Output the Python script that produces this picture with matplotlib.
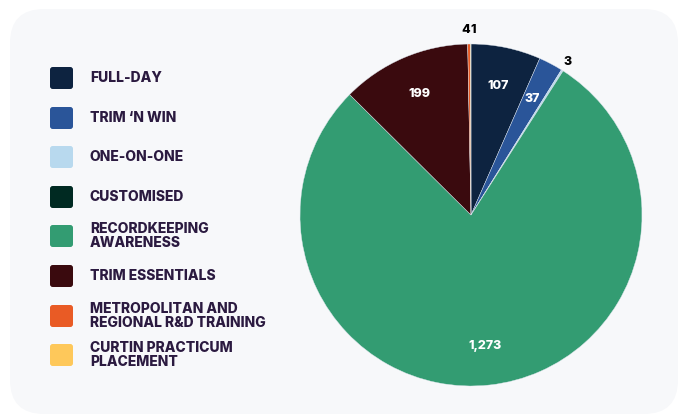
import matplotlib.pyplot as plt
import numpy as np
from matplotlib.patches import FancyBboxPatch

# data
categories = ["FULL-DAY", "TRIM \u2018N WIN", "ONE-ON-ONE", "CUSTOMISED",
              "RECORDKEEPING\nAWARENESS", "TRIM ESSENTIALS",
              "METROPOLITAN AND\nREGIONAL R&D TRAINING",
              "CURTIN PRACTICUM\nPLACEMENT"]
values = [107, 37, 3, 0, 1273, 199, 4, 1]
colors = ["#0d2340", "#2a5599", "#b8d9ee", "#002a22",
          "#339c72", "#3a0a0e", "#e95b25", "#fec85a"]

txtcol = "#2b1a40"
plt.rcParams['font.family'] = ['Inter', 'DejaVu Sans']

fig = plt.figure(figsize=(6.82, 4.16), dpi=100, facecolor='white')

# card background
card = FancyBboxPatch((10/682, 2/416), 668/682, 405/416,
                      boxstyle="round,pad=0,rounding_size=0.05",
                      transform=fig.transFigure, facecolor="#f7f8fa",
                      edgecolor="none", mutation_aspect=682/416, zorder=-10)
fig.patches.append(card)

# pie
ax = fig.add_axes([300/682, 30/416, 342/682, 342/416])
ax.patch.set_visible(False)
wedges, _ = ax.pie(values, colors=colors, startangle=90, counterclock=False,
                   radius=1, wedgeprops=dict(edgecolor="#dfe6ee", linewidth=0.3))
ax.set_xlim(-1, 1)
ax.set_ylim(-1, 1)
ax.set_aspect('equal')
ax.axis('off')

def fmt(v):
    return "{:,}".format(v)

for w, v in zip(wedges, values):
    if v == 0:
        continue
    mid = np.deg2rad((w.theta1 + w.theta2) / 2)
    if v >= 30:
        r = 0.77
        ax.text(r*np.cos(mid), r*np.sin(mid), fmt(v), color="white",
                ha="center", va="center", fontsize=9, fontweight="heavy")

# small slices outside
w3 = wedges[2]
mid = np.deg2rad((w3.theta1 + w3.theta2) / 2)
ax.text(1.06*np.cos(mid), 1.06*np.sin(mid), fmt(values[2]), color="black",
        ha="center", va="center", fontsize=9, fontweight="heavy")

wm, wc = wedges[6], wedges[7]
edge = np.deg2rad(wm.theta1)  # boundary between metro and curtin
ax.text(1.08*np.cos(edge), 1.08*np.sin(edge), fmt(values[6]), color="black",
        ha="right", va="center", fontsize=9, fontweight="heavy")
ax.text(1.08*np.cos(edge), 1.08*np.sin(edge), fmt(values[7]), color="black",
        ha="left", va="center", fontsize=9, fontweight="heavy")

# legend
ys = [78, 118, 157, 197, 236, 276, 316, 355]
for lab, c, y in zip(categories, colors, ys):
    sq = FancyBboxPatch((50/682, (416-y-11)/416), 23/682, 22/416,
                        boxstyle="round,pad=0,rounding_size=0.004",
                        transform=fig.transFigure, facecolor=c,
                        edgecolor="none", mutation_aspect=682/416)
    fig.patches.append(sq)
    fig.text(90/682, (416-y)/416, lab, color=txtcol, ha="left", va="center",
             fontsize=10, fontweight="heavy", linespacing=1.05)

fig.savefig("out.png", dpi=100, facecolor='white')
